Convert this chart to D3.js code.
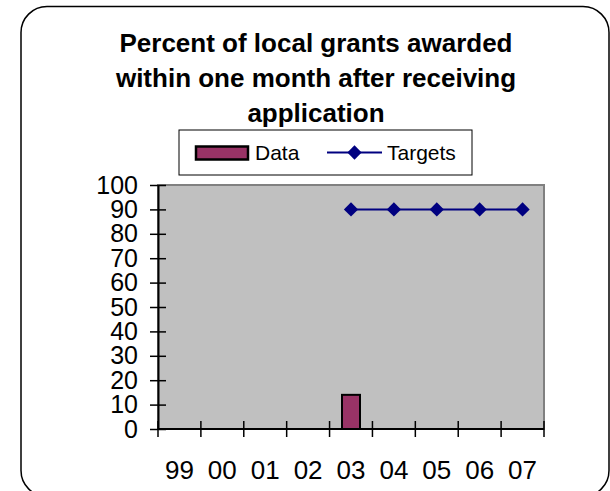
<!DOCTYPE html>
<html><head><meta charset="utf-8">
<script src="https://cdn.jsdelivr.net/npm/d3@7"></script>
<style>body{margin:0;background:#fff}svg{display:block}text{font-family:"Liberation Sans",Arial,sans-serif}</style>
</head><body>
<script>
const categories = ["99","00","01","02","03","04","05","06","07"];
const dataValues = [null,null,null,null,14,null,null,null,null];
const targetValues = [null,null,null,null,90,90,90,90,90];
const yTicks = [0,10,20,30,40,50,60,70,80,90,100];
const titleLines = ["Percent of local grants awarded","within one month after receiving","application"];
const seriesNames = ["Data","Targets"];

const W=610,H=491;
const svg=d3.select("body").append("svg").attr("width",W).attr("height",H);
svg.append("rect").attr("x",21).attr("y",6.5).attr("width",588).attr("height",490)
  .attr("rx",26).attr("ry",26).attr("fill","#fff").attr("stroke","#000").attr("stroke-width",1.5);

const L=158,R=544,T=185,B=429;
const x=d3.scaleBand().domain(categories).range([L,R]).padding(0);
const y=d3.scaleLinear().domain([0,100]).range([B,T]);

svg.append("rect").attr("x",L).attr("y",T).attr("width",R-L).attr("height",B-T)
  .attr("fill","#c0c0c0").attr("stroke","#808080").attr("stroke-width",2);

// title
svg.append("text").attr("x",316).attr("y",52).attr("text-anchor","middle")
  .attr("font-size",26).attr("font-weight","bold")
  .selectAll("tspan").data(titleLines).join("tspan")
  .attr("x",316).attr("dy",(d,i)=>i?35:0).text(d=>d);

// bars
const bw=18;
svg.selectAll("rect.bar").data(categories.map((c,i)=>({c,v:dataValues[i]})).filter(d=>d.v!=null))
  .join("rect").attr("class","bar")
  .attr("x",d=>x(d.c)+x.bandwidth()/2-bw/2).attr("width",bw)
  .attr("y",d=>y(d.v)).attr("height",d=>B-y(d.v))
  .attr("fill","#993366").attr("stroke","#000").attr("stroke-width",2);

// axes
const yAxis=d3.axisLeft(y).tickValues(yTicks).tickSize(0).tickPadding(20);
const gy=svg.append("g").attr("transform",`translate(${L},0)`).call(yAxis);
gy.select(".domain").attr("stroke","#000").attr("stroke-width",2);
gy.selectAll(".tick text").attr("font-size",25).attr("fill","#000").attr("font-family","Liberation Sans, Arial, sans-serif");
gy.selectAll(".tick").append("line").attr("x1",-8).attr("x2",8).attr("stroke","#000").attr("stroke-width",1.5);

const gx=svg.append("g").attr("transform",`translate(0,${B})`);
gx.append("line").attr("x1",L).attr("x2",R).attr("stroke","#000").attr("stroke-width",2);
const bounds=categories.map(c=>x(c)).concat([R]);
gx.selectAll("line.tk").data(bounds).join("line").attr("class","tk")
  .attr("x1",d=>d).attr("x2",d=>d).attr("y1",-8).attr("y2",8).attr("stroke","#000").attr("stroke-width",1.5);
gx.selectAll("text").data(categories).join("text")
  .attr("x",d=>x(d)+x.bandwidth()/2).attr("y",50).attr("text-anchor","middle")
  .attr("font-size",26).text(d=>d);

// targets line
const tpts=categories.map((c,i)=>({c,v:targetValues[i]})).filter(d=>d.v!=null);
const line=d3.line().x(d=>x(d.c)+x.bandwidth()/2).y(d=>y(d.v));
svg.append("path").datum(tpts).attr("d",line).attr("fill","none").attr("stroke","#000080").attr("stroke-width",2);
const diamond=d3.symbol().type(d3.symbolDiamond2).size(130);
svg.selectAll("path.mk").data(tpts).join("path").attr("class","mk")
  .attr("transform",d=>`translate(${x(d.c)+x.bandwidth()/2},${y(d.v)})`)
  .attr("d",diamond).attr("fill","#000080");

// legend
const lg=svg.append("g");
lg.append("rect").attr("x",179).attr("y",130).attr("width",293).attr("height",45)
  .attr("fill","#fff").attr("stroke","#000").attr("stroke-width",1);
lg.append("rect").attr("x",196).attr("y",146.5).attr("width",52).attr("height",13)
  .attr("fill","#993366").attr("stroke","#000").attr("stroke-width",2.5);
lg.append("text").attr("x",255).attr("y",160).attr("font-size",21).text(seriesNames[0]);
lg.append("line").attr("x1",327).attr("x2",382).attr("y1",152.5).attr("y2",152.5).attr("stroke","#000080").attr("stroke-width",2);
lg.append("path").attr("transform","translate(354.5,152.5)").attr("d",diamond).attr("fill","#000080");
lg.append("text").attr("x",387).attr("y",160).attr("font-size",21).text(seriesNames[1]);
</script>
</body></html>
